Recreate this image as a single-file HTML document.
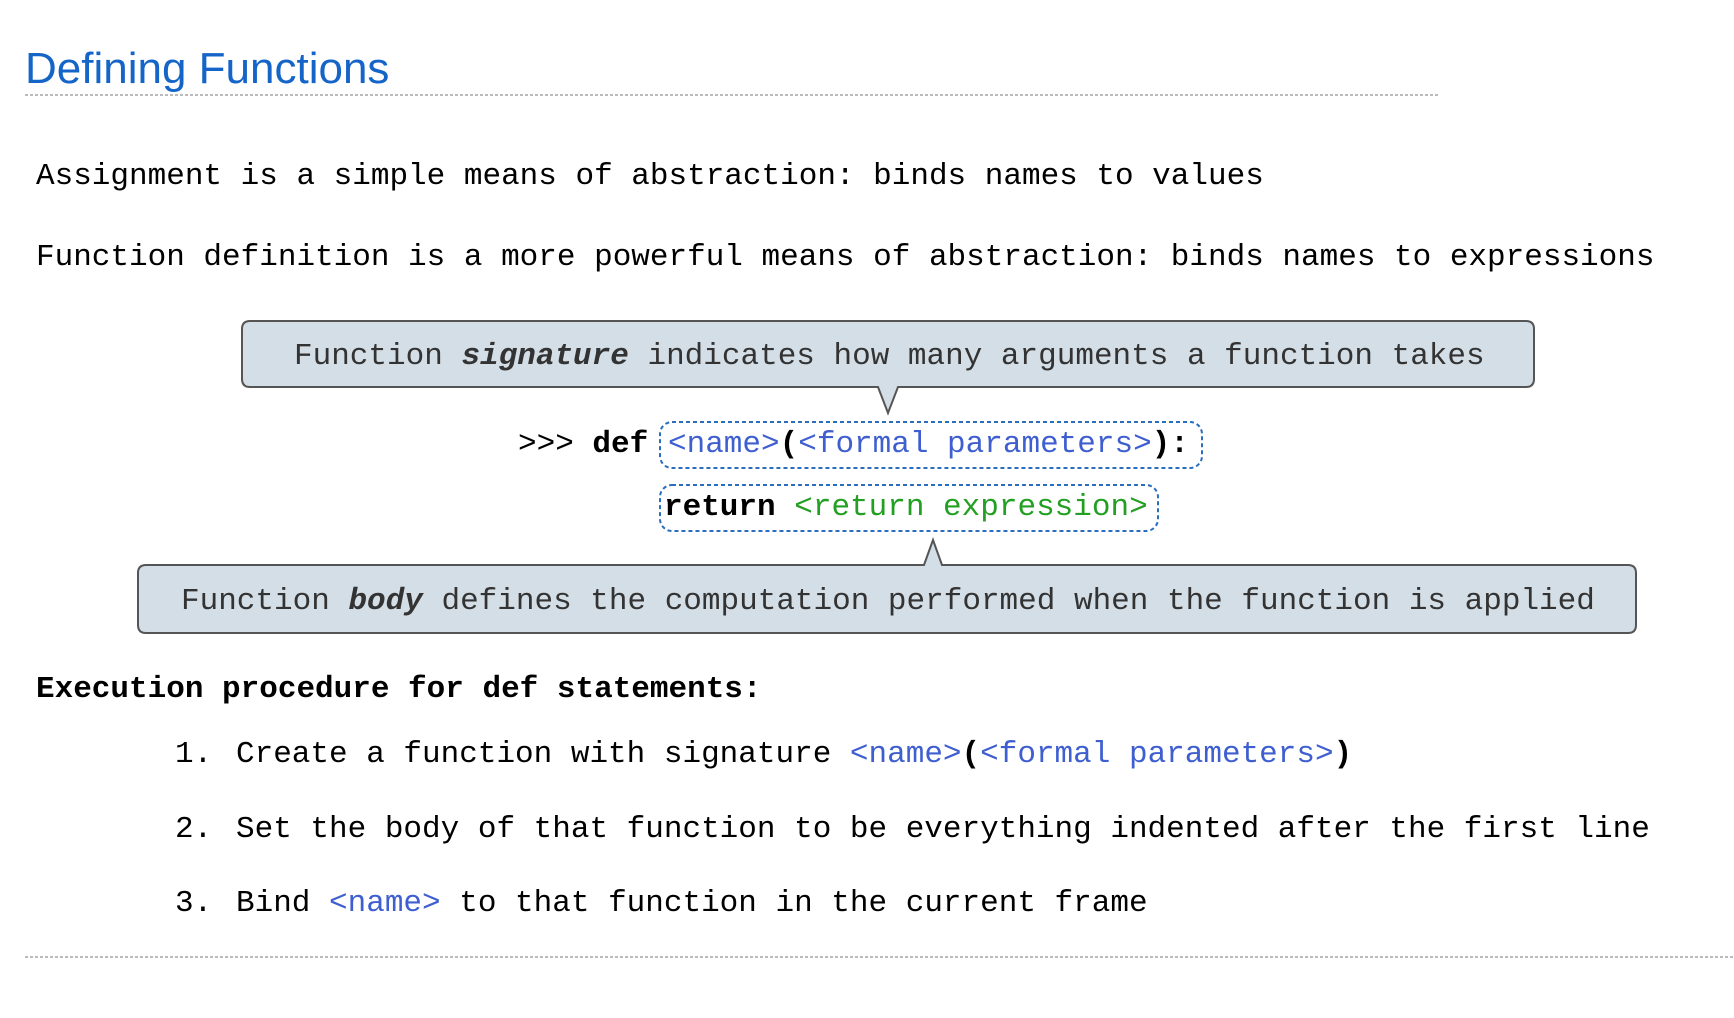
<!DOCTYPE html>
<html><head><meta charset="utf-8"><style>
html,body{margin:0;padding:0;background:#fff;}
svg{display:block;}
text{font-family:"Liberation Mono","DejaVu Sans Mono",monospace;font-size:31px;}
.b{fill:#3f5fd0;}.g{fill:#23a023;}.k{fill:#000;}
</style></head><body>
<svg width="1734" height="1018" viewBox="0 0 1734 1018" xmlns="http://www.w3.org/2000/svg">
<text x="25" y="83" style="font-family:'Liberation Sans',sans-serif;font-size:44px;fill:#1565c8">Defining Functions</text>
<line x1="25" y1="95" x2="1438" y2="95" stroke="#bbb" stroke-width="2" stroke-dasharray="3,2"/>
<text x="36" y="184" class="k">Assignment is a simple means of abstraction: binds names to values</text>
<text x="36" y="265" class="k">Function definition is a more powerful means of abstraction: binds names to expressions</text>

<path d="M250,321 H1526 Q1534,321 1534,329 V379 Q1534,387 1526,387 H898 L888,413 L878,387 H250 Q242,387 242,379 V329 Q242,321 250,321 Z" fill="#d4dee6" stroke="#555" stroke-width="2"/>
<text x="294" y="364" fill="#333">Function <tspan font-weight="bold" font-style="italic">signature</tspan> indicates how many arguments a function takes</text>

<text x="518" y="452" class="k">&gt;&gt;&gt; <tspan font-weight="bold">def</tspan></text>
<rect x="660" y="422" width="542" height="46" rx="12" fill="none" stroke="#2a6ebd" stroke-width="2" stroke-dasharray="4,3"/>
<text x="668" y="452"><tspan class="b">&lt;name&gt;</tspan><tspan class="k" font-weight="bold">(</tspan><tspan class="b">&lt;formal parameters&gt;</tspan><tspan class="k" font-weight="bold">):</tspan></text>
<rect x="660" y="485" width="498" height="46" rx="12" fill="none" stroke="#2a6ebd" stroke-width="2" stroke-dasharray="4,3"/>
<text x="664" y="515"><tspan class="k" font-weight="bold">return</tspan> <tspan class="g">&lt;return expression&gt;</tspan></text>

<path d="M146,565 H924 L933,540 L942,565 H1628 Q1636,565 1636,573 V625 Q1636,633 1628,633 H146 Q138,633 138,625 V573 Q138,565 146,565 Z" fill="#d4dee6" stroke="#555" stroke-width="2"/>
<text x="181" y="609" fill="#333">Function <tspan font-weight="bold" font-style="italic">body</tspan> defines the computation performed when the function is applied</text>

<text x="36" y="697" class="k" font-weight="bold">Execution procedure for def statements:</text>
<text x="175" y="762" class="k">1.</text>
<text x="236" y="762" class="k">Create a function with signature <tspan class="b">&lt;name&gt;</tspan><tspan font-weight="bold">(</tspan><tspan class="b">&lt;formal parameters&gt;</tspan><tspan font-weight="bold">)</tspan></text>
<text x="175" y="837" class="k">2.</text>
<text x="236" y="837" class="k">Set the body of that function to be everything indented after the first line</text>
<text x="175" y="911" class="k">3.</text>
<text x="236" y="911" class="k">Bind <tspan class="b">&lt;name&gt;</tspan> to that function in the current frame</text>
<line x1="25" y1="957" x2="1734" y2="957" stroke="#bbb" stroke-width="2" stroke-dasharray="3,2"/>
</svg>
</body></html>
